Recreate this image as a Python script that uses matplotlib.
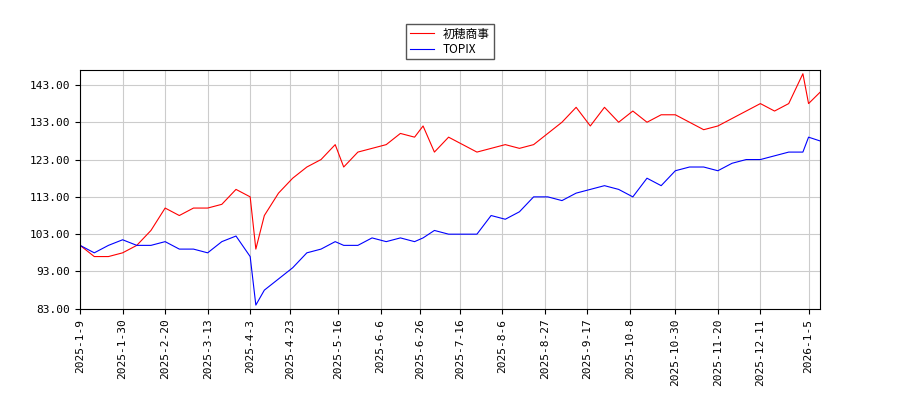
import matplotlib
matplotlib.use('Agg')
import matplotlib.pyplot as plt
import numpy as np

plt.rcParams['font.family'] = ['Noto Sans CJK JP', 'DejaVu Sans']

dates = ['2025-01-09', '2025-01-16', '2025-01-23', '2025-01-30', '2025-02-06', '2025-02-13',
         '2025-02-20', '2025-02-27', '2025-03-06', '2025-03-13', '2025-03-20', '2025-03-27',
         '2025-04-03', '2025-04-07', '2025-04-10', '2025-04-17', '2025-04-24', '2025-05-01',
         '2025-05-08', '2025-05-15', '2025-05-20', '2025-05-27', '2025-06-03', '2025-06-10',
         '2025-06-17', '2025-06-24', '2025-06-27', '2025-07-03', '2025-07-10', '2025-07-17',
         '2025-07-24', '2025-07-31', '2025-08-07', '2025-08-14', '2025-08-21', '2025-08-28',
         '2025-09-04', '2025-09-11', '2025-09-18', '2025-09-25', '2025-10-02', '2025-10-09',
         '2025-10-16', '2025-10-23', '2025-10-30', '2025-11-06', '2025-11-13', '2025-11-20',
         '2025-11-27', '2025-12-04', '2025-12-11', '2025-12-18', '2025-12-25', '2026-01-01',
         '2026-01-05', '2026-01-09']
stock = [100, 97, 97, 98, 100, 104, 110, 108, 110, 110, 111, 115, 113, 99, 108, 114, 118, 121,
         123, 127, 121, 125, 126, 127, 130, 129, 132, 125, 129, 127, 125, 126, 127, 126, 127, 130,
         133, 137, 132, 137, 133, 136, 133, 135, 135, 133, 131, 132, 134, 136, 138, 136, 138, 146,
         138, 141]
topix = [100, 98, 100, 101.5, 100, 100, 101, 99, 99, 98, 101, 102.5, 97, 84, 88, 91, 94, 98,
         99, 101, 100, 100, 102, 101, 102, 101, 102, 104, 103, 103, 103, 108, 107, 109, 113, 113,
         112, 114, 115, 116, 115, 113, 118, 116, 120, 121, 121, 120, 122, 123, 123, 124, 125, 125,
         129, 128]
tick_labels = ['2025-1-9', '2025-1-30', '2025-2-20', '2025-3-13', '2025-4-3', '2025-4-23',
               '2025-5-16', '2025-6-6', '2025-6-26', '2025-7-16', '2025-8-6', '2025-8-27',
               '2025-9-17', '2025-10-8', '2025-10-30', '2025-11-20', '2025-12-11', '2026-1-5']
tick_dates = ['2025-01-09', '2025-01-30', '2025-02-20', '2025-03-13', '2025-04-03', '2025-04-23',
              '2025-05-16', '2025-06-06', '2025-06-26', '2025-07-16', '2025-08-06', '2025-08-27',
              '2025-09-17', '2025-10-08', '2025-10-30', '2025-11-20', '2025-12-11', '2026-01-05']

start = np.datetime64('2025-01-09')
x = np.busday_count(start, np.array(dates, dtype='datetime64[D]'))
tx = np.busday_count(start, np.array(tick_dates, dtype='datetime64[D]'))
end = np.busday_count(start, np.datetime64('2026-01-09'))

fig, ax = plt.subplots(figsize=(9, 4), dpi=100)
fig.subplots_adjust(left=0.089, right=0.911, top=0.825, bottom=0.228)
ax.plot(x, stock, color='red', lw=0.8, label='初穂商事')
ax.plot(x, topix, color='blue', lw=0.8, label='TOPIX')
ax.set_ylim(83, 147)
ax.set_yticks([83, 93, 103, 113, 123, 133, 143])
ax.yaxis.set_major_formatter(matplotlib.ticker.FormatStrFormatter('%.2f'))
ax.set_xticks(tx)
ax.set_xticklabels(tick_labels)
ax.set_xlim(0, end)
plt.setp(ax.get_xticklabels(), rotation=90, fontsize=8, family='DejaVu Sans Mono')
plt.setp(ax.get_yticklabels(), fontsize=8, family='DejaVu Sans Mono')
ax.grid(True, color='#cccccc', lw=0.8)
ax.legend(loc='lower center', bbox_to_anchor=(0.5, 1.02), fontsize=8.5, framealpha=1,
          edgecolor='#555555', fancybox=False, borderpad=0.3, labelspacing=0.2)
fig.savefig('out.png')
